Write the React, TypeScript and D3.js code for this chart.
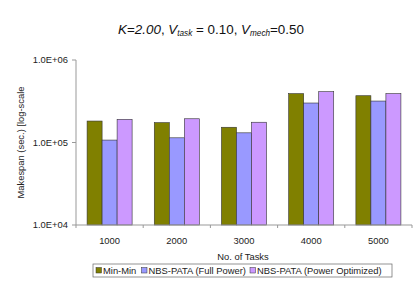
import React from "react";
import * as d3 from "d3";

const categories = ["1000", "2000", "3000", "4000", "5000"];
const seriesNames = ["Min-Min", "NBS-PATA (Full Power)", "NBS-PATA (Power Optimized)"];
const minMin = [182000, 174000, 153000, 391000, 369000];
const fullPower = [107000, 114000, 131000, 301000, 318000];
const powerOpt = [191000, 194000, 176000, 413000, 391000];
const yTicks = [1e4, 1e5, 1e6];
const yTickLabels = ["1.0E+04", "1.0E+05", "1.0E+06"];
const colors = ["#808000", "#9999FF", "#CC99FF"];

export default function App() {
  const W = 413, H = 284;
  const left = 76, right = 412, top = 60, bottom = 225;
  const x = d3.scaleBand().domain(categories).range([left, right]).paddingInner(0.33).paddingOuter(0.165);
  const xs = d3.scaleBand().domain(seriesNames).range([0, x.bandwidth()]);
  const y = d3.scaleLog().domain([1e4, 1e6]).range([bottom, top]);
  const series = [minMin, fullPower, powerOpt];
  const step = (right - left) / categories.length;
  const font = "'Liberation Sans', Arial, sans-serif";
  const fs = 9.4;
  return (
    <svg width={W} height={H} style={{ position: "absolute", left: 0, top: 0 }} fontFamily={font}>
      <rect x={0} y={0} width={W} height={H} fill="#fff" />
      <text x={211} y={34} fontSize={13.4} textAnchor="middle" fill="#111">
        <tspan fontStyle="italic">K</tspan>
        <tspan>=</tspan>
        <tspan fontStyle="italic">2.00</tspan>
        <tspan>, </tspan>
        <tspan fontStyle="italic">V</tspan>
        <tspan fontStyle="italic" fontSize={8.2} dy={2}>task</tspan>
        <tspan dy={-2}> = 0.10, </tspan>
        <tspan fontStyle="italic">V</tspan>
        <tspan fontStyle="italic" fontSize={8.2} dy={2}>mech</tspan>
        <tspan dy={-2}>=0.50</tspan>
      </text>
      {series.map((vals, si) =>
        vals.map((v, i) => (
          <rect
            key={`${si}-${i}`}
            x={(x(categories[i]) ?? 0) + (xs(seriesNames[si]) ?? 0)}
            y={y(v)}
            width={xs.bandwidth()}
            height={bottom - y(v)}
            fill={colors[si]}
            stroke="#333"
            strokeWidth={0.6}
          />
        ))
      )}
      <line x1={left} x2={left} y1={top} y2={bottom} stroke="#999" />
      <line x1={left} x2={right} y1={bottom} y2={bottom} stroke="#999" />
      {yTicks.map((t, i) => (
        <g key={t}>
          <line x1={left - 4} x2={left} y1={y(t)} y2={y(t)} stroke="#999" />
          <text x={left - 8} y={y(t) + 3.3} fontSize={fs} textAnchor="end" fill="#222">{yTickLabels[i]}</text>
        </g>
      ))}
      {d3.range(categories.length + 1).map((i) => (
        <line key={i} x1={left + i * step} x2={left + i * step} y1={bottom} y2={bottom + 3} stroke="#999" />
      ))}
      {categories.map((c) => (
        <text key={c} x={(x(c) ?? 0) + x.bandwidth() / 2} y={243.5} fontSize={fs} textAnchor="middle" fill="#222">{c}</text>
      ))}
      <text x={243} y={259.5} fontSize={fs} textAnchor="middle" fill="#222">No. of Tasks</text>
      <text transform={`translate(24,${(top + bottom) / 2}) rotate(-90)`} fontSize={fs} textAnchor="middle" fill="#222">Makespan (sec.) [log-scale</text>
      <rect x={93} y={264} width={299} height={13} fill="#fff" stroke="#666" strokeWidth={0.7} />
      {(() => {
        const offs = [96, 141.5, 250];
        return seriesNames.map((n, i) => (
          <g key={n}>
            <rect x={offs[i]} y={267.5} width={5.5} height={5.5} fill={colors[i]} stroke="#333" strokeWidth={0.5} />
            <text x={offs[i] + 7} y={274} fontSize={fs} fill="#222">{n}</text>
          </g>
        ));
      })()}
    </svg>
  );
}
